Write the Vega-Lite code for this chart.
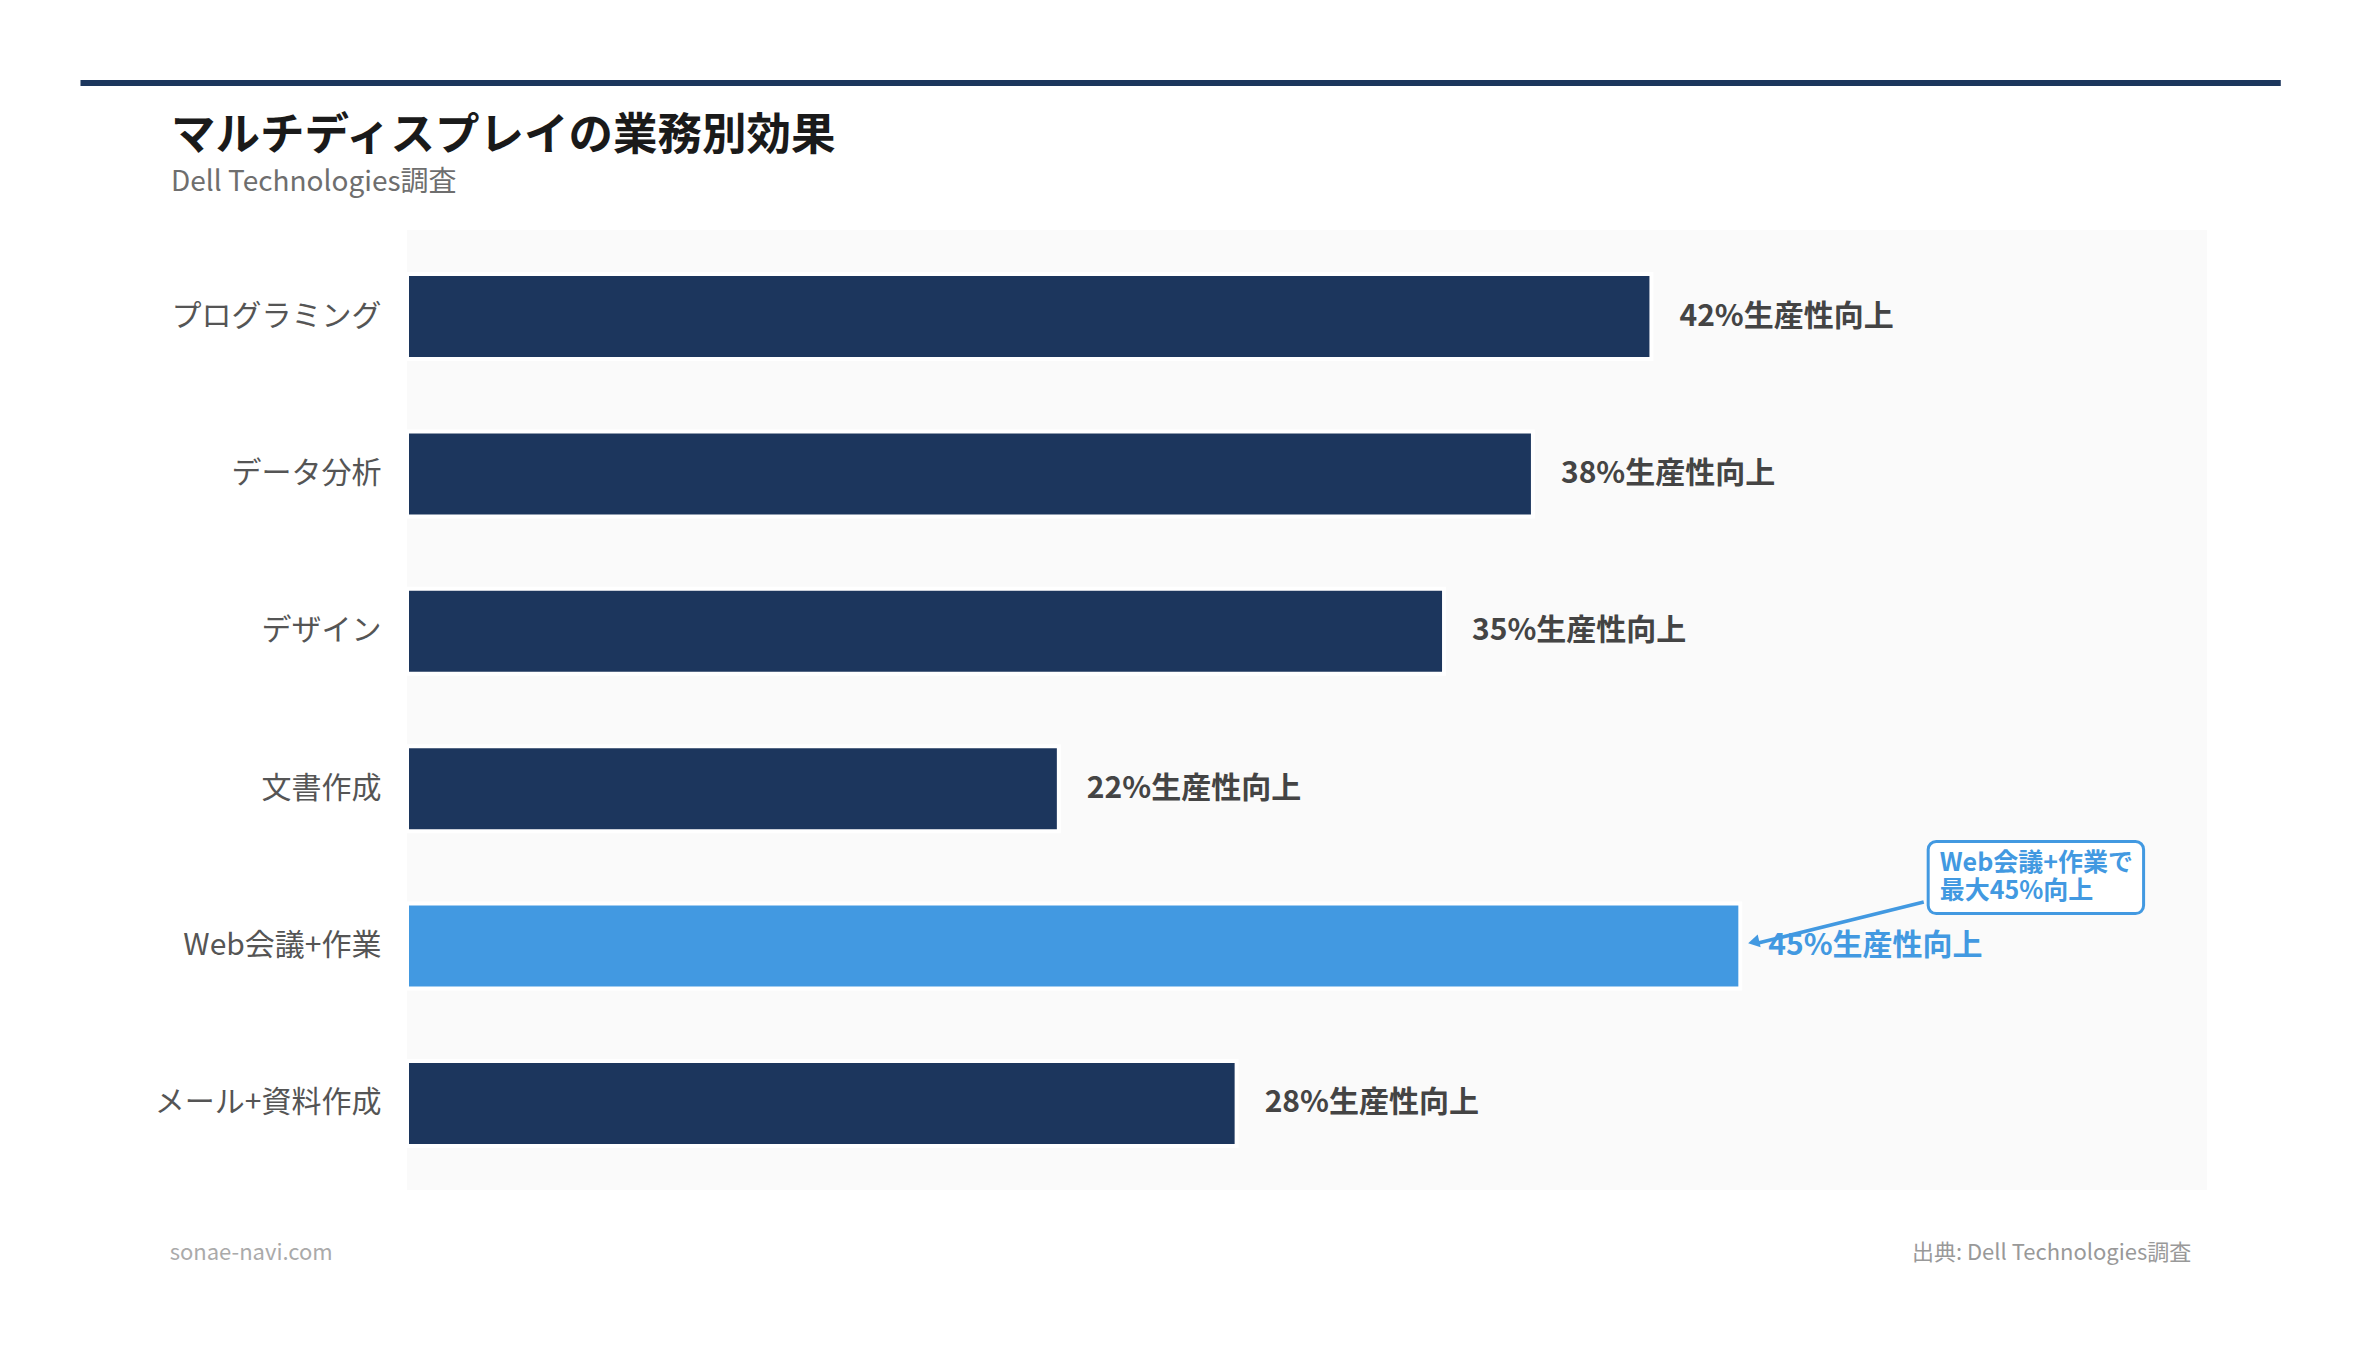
{
  "$schema": "https://vega.github.io/schema/vega-lite/v6.json",
  "width": 1800,
  "height": 960,
  "autosize": {"type": "none"},
  "padding": {"left": 407, "top": 230, "right": 153, "bottom": 157},
  "background": "#ffffff",
  "title": {
    "text": "マルチディスプレイの業務別効果",
    "subtitle": "Dell Technologies調査",
    "anchor": "start",
    "frame": "group",
    "dx": -236,
    "dy": 156,
    "offset": 38,
    "font": "Noto Sans CJK JP",
    "fontSize": 44.5,
    "fontWeight": "bold",
    "color": "#1a1a1a",
    "subtitleFont": "Noto Sans CJK JP",
    "subtitleFontSize": 28,
    "subtitleColor": "#6e6e6e",
    "subtitlePadding": 10
  },
  "data": {
    "values": [
      {"task": "プログラミング", "value": 42, "label": "42%生産性向上", "group": "normal"},
      {"task": "データ分析", "value": 38, "label": "38%生産性向上", "group": "normal"},
      {"task": "デザイン", "value": 35, "label": "35%生産性向上", "group": "normal"},
      {"task": "文書作成", "value": 22, "label": "22%生産性向上", "group": "normal"},
      {"task": "Web会議+作業", "value": 45, "label": "45%生産性向上", "group": "highlight"},
      {"task": "メール+資料作成", "value": 28, "label": "28%生産性向上", "group": "normal"}
    ]
  },
  "layer": [
    {
      "mark": {"type": "bar", "stroke": "#ffffff", "strokeWidth": 4},
      "encoding": {
        "y": {
          "field": "task",
          "type": "nominal",
          "sort": null,
          "scale": {"paddingInner": 0.46, "paddingOuter": 0.28},
          "axis": {
            "title": null,
            "ticks": false,
            "domain": false,
            "grid": false,
            "labelPadding": 26,
            "labelFont": "Noto Sans CJK JP",
            "labelFontSize": 30,
            "labelColor": "#555555",
            "labelLimit": 400
          }
        },
        "x": {
          "field": "value",
          "type": "quantitative",
          "scale": {"domain": [0, 60.75], "nice": false},
          "axis": null
        },
        "color": {
          "field": "group",
          "type": "nominal",
          "scale": {"domain": ["normal", "highlight"], "range": ["#1c365d", "#4299e1"]},
          "legend": null
        }
      }
    },
    {
      "mark": {
        "type": "text",
        "align": "left",
        "baseline": "middle",
        "dx": 28,
        "font": "Noto Sans CJK JP",
        "fontSize": 30,
        "fontWeight": "bold"
      },
      "encoding": {
        "y": {"field": "task", "type": "nominal", "sort": null},
        "x": {"field": "value", "type": "quantitative", "scale": {"domain": [0, 60.75], "nice": false}},
        "text": {"field": "label"},
        "color": {
          "condition": {"test": "datum.group === 'highlight'", "value": "#4299e1"},
          "value": "#444444"
        }
      }
    },
    {
      "data": {"values": [{}]},
      "mark": {"type": "rule", "color": "#1c365d", "strokeWidth": 6, "yOffset": -233.5},
      "encoding": {
        "x": {"datum": -11.02, "type": "quantitative", "scale": {"domain": [0, 60.75], "nice": false}},
        "x2": {"datum": 63.24},
        "y": {"datum": "プログラミング", "type": "nominal"}
      }
    },
    {
      "data": {"values": [{}]},
      "mark": {"type": "rule", "color": "#4299e1", "strokeWidth": 3.5, "yOffset": -44, "y2Offset": -3},
      "encoding": {
        "x": {"datum": 51.19, "type": "quantitative", "scale": {"domain": [0, 60.75], "nice": false}},
        "x2": {"datum": 45.6},
        "y": {"datum": "Web会議+作業", "type": "nominal"},
        "y2": {"datum": "Web会議+作業"}
      }
    },
    {
      "data": {"values": [{}]},
      "mark": {
        "type": "point",
        "shape": "triangle-left",
        "filled": true,
        "opacity": 1,
        "size": 170,
        "angle": 347,
        "color": "#4299e1",
        "yOffset": -4
      },
      "encoding": {
        "x": {"datum": 45.45, "type": "quantitative", "scale": {"domain": [0, 60.75], "nice": false}},
        "y": {"datum": "Web会議+作業", "type": "nominal"}
      }
    },
    {
      "data": {"values": [{}]},
      "mark": {
        "type": "bar",
        "height": 72,
        "yOffset": -68.5,
        "fill": "#ffffff",
        "stroke": "#4299e1",
        "strokeWidth": 3,
        "cornerRadius": 8
      },
      "encoding": {
        "x": {"datum": 51.34, "type": "quantitative", "scale": {"domain": [0, 60.75], "nice": false}},
        "x2": {"datum": 58.61},
        "y": {"datum": "Web会議+作業", "type": "nominal"}
      }
    },
    {
      "data": {"values": [{}]},
      "mark": {
        "type": "text",
        "align": "left",
        "baseline": "middle",
        "yOffset": -83,
        "lineHeight": 28,
        "font": "Noto Sans CJK JP",
        "fontSize": 25,
        "fontWeight": "bold",
        "color": "#4299e1"
      },
      "encoding": {
        "x": {"datum": 51.73, "type": "quantitative", "scale": {"domain": [0, 60.75], "nice": false}},
        "y": {"datum": "Web会議+作業", "type": "nominal"},
        "text": {"value": ["Web会議+作業で", "最大45%向上"]}
      }
    },
    {
      "data": {"values": [{}]},
      "mark": {
        "type": "text",
        "align": "left",
        "baseline": "middle",
        "yOffset": 149.5,
        "font": "Noto Sans CJK JP",
        "fontSize": 22,
        "color": "#aaaaaa"
      },
      "encoding": {
        "x": {"datum": -8.01, "type": "quantitative", "scale": {"domain": [0, 60.75], "nice": false}},
        "y": {"datum": "メール+資料作成", "type": "nominal"},
        "text": {"value": "sonae-navi.com"}
      }
    },
    {
      "data": {"values": [{}]},
      "mark": {
        "type": "text",
        "align": "right",
        "baseline": "middle",
        "yOffset": 149.5,
        "font": "Noto Sans CJK JP",
        "fontSize": 22,
        "color": "#999999"
      },
      "encoding": {
        "x": {"datum": 60.22, "type": "quantitative", "scale": {"domain": [0, 60.75], "nice": false}},
        "y": {"datum": "メール+資料作成", "type": "nominal"},
        "text": {"value": "出典: Dell Technologies調査"}
      }
    }
  ],
  "config": {
    "view": {"stroke": null, "fill": "#fafafa"},
    "font": "Noto Sans CJK JP"
  }
}
